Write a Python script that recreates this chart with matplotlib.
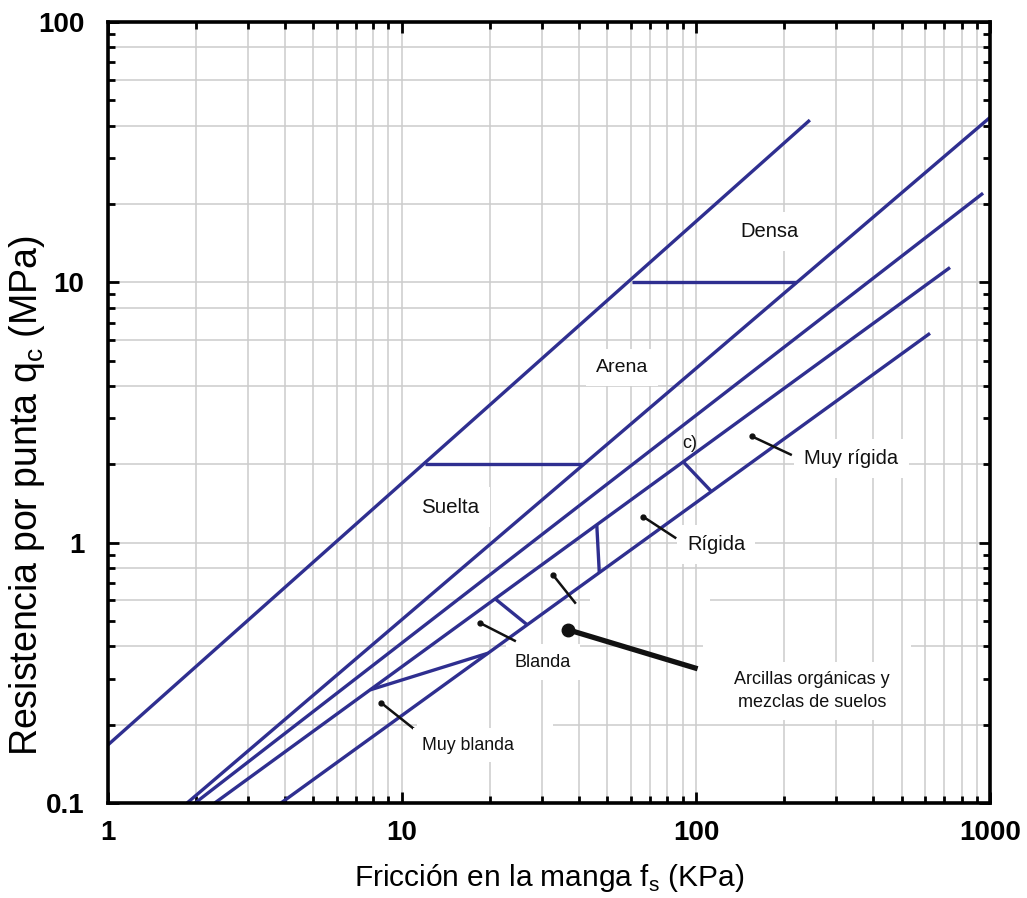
import matplotlib
matplotlib.use("Agg")
import matplotlib.pyplot as plt
import numpy as np
from matplotlib.ticker import FixedLocator, NullFormatter
from matplotlib.patches import Rectangle

plt.rcParams['font.family'] = ['Liberation Sans', 'DejaVu Sans']

# ---- data ----
x_ticks = [1, 10, 100, 1000]
x_tick_labels = ["1", "10", "100", "1000"]
y_ticks = [0.1, 1, 10, 100]
y_tick_labels = ["0.1", "1", "10", "100"]

# main boundary lines (fs in kPa, qc in MPa)
line1_fs = [1.0, 244.0]
line1_qc = [0.167, 42.0]
line2_fs = [1.86, 1000.0]
line2_qc = [0.1, 43.0]
line3_fs = [1.98, 947.0]
line3_qc = [0.1, 22.0]
line4_fs = [2.31, 731.0]
line4_qc = [0.1, 11.4]
line5_fs = [3.88, 625.0]
line5_qc = [0.1, 6.37]

# connecting segments
seg_h10_fs = [60.6, 219.0]
seg_h10_qc = [10.0, 10.0]
seg_h2_fs = [12.0, 41.4]
seg_h2_qc = [2.0, 2.0]
seg_c_fs = [90.3, 113.0]
seg_c_qc = [2.05, 1.57]
seg_v_fs = [46.0, 46.9]
seg_v_qc = [1.17, 0.77]
seg_low_fs = [20.7, 26.6]
seg_low_qc = [0.61, 0.485]
seg_sl_fs = [7.8, 19.6]
seg_sl_qc = [0.272, 0.376]

# pointer lines (start with dot, end)
ptr_muyrig_fs = [155.0, 210.0]
ptr_muyrig_qc = [2.56, 2.18]
ptr_rig_fs = [66.0, 85.0]
ptr_rig_qc = [1.26, 1.045]
ptr_firm_fs = [32.6, 38.8]
ptr_firm_qc = [0.753, 0.588]
ptr_bla_fs = [18.4, 24.2]
ptr_bla_qc = [0.492, 0.42]
ptr_muybla_fs = [8.48, 10.9]
ptr_muybla_qc = [0.243, 0.194]
ptr_org_fs = [36.7, 99.3]
ptr_org_qc = [0.463, 0.330]

labels = ["Densa", "Arena", "Suelta", "c)", "Muy rígida", "Rígida", "Blanda",
          "Arcillas orgánicas y\nmezclas de suelos", "Muy blanda"]
labels_fs = [178.5, 56.0, 14.6, 95.6, 338.0, 117.0, 30.2, 248.0, 16.8]
labels_qc = [15.7, 4.71, 1.37, 2.40, 2.10, 0.985, 0.348, 0.27, 0.167]

y_grid_minor = [2, 4, 6, 8, 20, 40, 60, 80, 0.2, 0.4, 0.6, 0.8]

# ---- figure ----
fig = plt.figure(figsize=(10.27, 8.98), dpi=100)
ax = fig.add_axes([0.105, 0.1058, 0.859, 0.8697])
ax.set_xscale('log')
ax.set_yscale('log')
ax.set_xlim(1, 1000)
ax.set_ylim(0.1, 100)

gcol = '#cccccc'
ax.grid(True, which='both', axis='x', color=gcol, linewidth=1.1, zorder=0)
ax.grid(True, which='major', axis='y', color=gcol, linewidth=1.1, zorder=0)
for v in y_grid_minor:
    ax.axhline(v, color=gcol, linewidth=1.1, zorder=0)

blue = '#2f2f90'
lw = 2.4
for fs, qc in [(line1_fs, line1_qc), (line2_fs, line2_qc), (line3_fs, line3_qc),
               (line4_fs, line4_qc), (line5_fs, line5_qc),
               (seg_h10_fs, seg_h10_qc), (seg_h2_fs, seg_h2_qc), (seg_c_fs, seg_c_qc),
               (seg_v_fs, seg_v_qc), (seg_low_fs, seg_low_qc), (seg_sl_fs, seg_sl_qc)]:
    ax.plot(fs, qc, color=blue, linewidth=lw, solid_capstyle='butt', zorder=3)

# white patches (erased areas behind labels)
for (x0, y0, w, h) in [(0.546, 0.207, 0.137, 0.064), (0.675, 0.115, 0.235, 0.095),
                       (0.35, 0.07, 0.155, 0.06)]:
    ax.add_patch(Rectangle((x0, y0), w, h, transform=ax.transAxes,
                           facecolor='white', edgecolor='none', zorder=1))

for fs, qc in [(ptr_muyrig_fs, ptr_muyrig_qc), (ptr_rig_fs, ptr_rig_qc),
               (ptr_firm_fs, ptr_firm_qc), (ptr_bla_fs, ptr_bla_qc),
               (ptr_muybla_fs, ptr_muybla_qc)]:
    ax.plot(fs, qc, color='#111111', linewidth=1.8, zorder=4)
    ax.plot(fs[0], qc[0], 'o', color='#111111', markersize=3.5, zorder=4)
ax.plot(ptr_org_fs, ptr_org_qc, color='#111111', linewidth=3.8, zorder=4)
ax.plot(ptr_org_fs[0], ptr_org_qc[0], 'o', color='#111111', markersize=9, zorder=4)

label_sizes = [14.5, 14, 14.8, 13, 14.5, 14.5, 13, 13, 12.8]
for t, x, y, s in zip(labels, labels_fs, labels_qc, label_sizes):
    bb = None if t == "c)" else dict(facecolor='white', edgecolor='none',
                                     boxstyle='square,pad=0.5')
    ax.text(x, y, t, ha='center', va='center', fontsize=s, color='#111111',
            linespacing=1.45, zorder=5, bbox=bb)

# ticks
ax.xaxis.set_major_locator(FixedLocator(x_ticks))
ax.yaxis.set_major_locator(FixedLocator(y_ticks))
ax.set_xticklabels(x_tick_labels)
ax.set_yticklabels(y_tick_labels)
ax.xaxis.set_minor_formatter(NullFormatter())
ax.yaxis.set_minor_formatter(NullFormatter())
ax.tick_params(which='both', direction='in', top=True, right=True, width=2.0,
               color='black')
ax.tick_params(which='major', length=8, labelsize=20)
ax.tick_params(axis='x', which='major', pad=12)
ax.tick_params(axis='y', which='major', pad=17)
ax.tick_params(which='minor', length=5)
for lab in ax.get_xticklabels() + ax.get_yticklabels():
    lab.set_fontweight('bold')
for sp in ax.spines.values():
    sp.set_linewidth(2.6)
    sp.set_zorder(6)

ax.set_xlabel('Fricción en la manga f$_{\\mathregular{s}}$ (KPa)', fontsize=21.5, labelpad=12)
ax.set_ylabel('Resistencia por punta q$_{\\mathregular{c}}$ (MPa)', fontsize=27)
ax.yaxis.set_label_coords(-0.069, 0.394)

fig.savefig('out.png', dpi=100)
